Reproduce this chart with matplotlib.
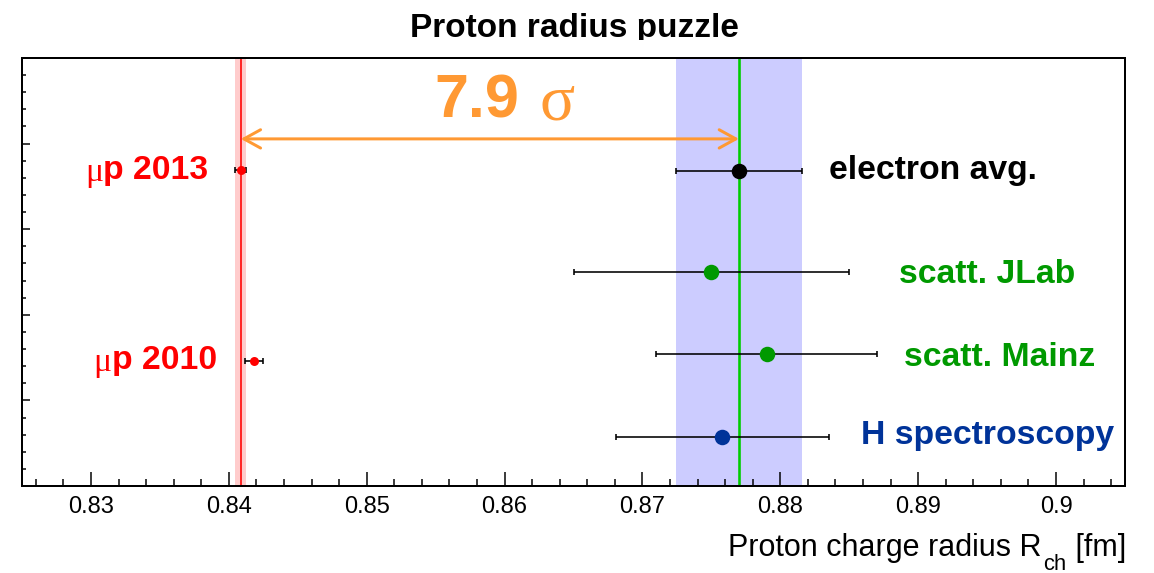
import matplotlib
matplotlib.use("Agg")
import matplotlib.pyplot as plt
from matplotlib.ticker import MultipleLocator, FixedLocator
from matplotlib.transforms import Bbox, TransformedBbox

# ---------------- data ----------------
e_labels = ["electron avg.", "scatt. JLab", "scatt. Mainz", "H spectroscopy"]
e_values = [0.8770, 0.8750, 0.8790, 0.8758]
e_errors = [0.0046, 0.0100, 0.0080, 0.0077]
e_rows = [0.736, 0.500, 0.308, 0.114]
e_colors = ["#000000", "#009900", "#009900", "#003399"]

mu_labels = ["p 2013", "p 2010"]
mu_values = [0.84087, 0.84184]
mu_errors = [0.00039, 0.00067]
mu_rows = [0.738, 0.292]

electron_band = (0.8770, 0.0046)
muon_band = (0.84087, 0.00039)
discrepancy = "7.9"

x_ticks = [0.83, 0.84, 0.85, 0.86, 0.87, 0.88, 0.89, 0.90]
x_ticklabels = ["0.83", "0.84", "0.85", "0.86", "0.87", "0.88", "0.89", "0.9"]

title = "Proton radius puzzle"
xlabel_main = "Proton charge radius R"
xlabel_sub = "ch"
xlabel_unit = " [fm]"

# ---------------- style ----------------
plt.rcParams["font.family"] = ["Liberation Sans", "DejaVu Sans"]

W, H = 1154, 573
fig = plt.figure(figsize=(W / 100, H / 100), dpi=100)
ax = fig.add_axes([22 / W, 87 / H, 1103 / W, 428 / H])
ax.set_xlim(0.825, 0.905)
ax.set_ylim(0, 1)
renderer = fig.canvas.get_renderer()

def fp(x, y):
    return (x / W, 1 - y / H)

def left_px(txt):
    bb = txt.get_window_extent(renderer=renderer)
    return bb.x0  # pixels from left

PX = 0.72  # points per pixel

# bands and lines
ax.axvspan(electron_band[0] - electron_band[1], electron_band[0] + electron_band[1],
           color="#CCCCFF", lw=0, zorder=1)
ax.axvline(electron_band[0], color="#00CC00", lw=2.6 * PX, zorder=2)
ax.axvspan(muon_band[0] - muon_band[1], muon_band[0] + muon_band[1],
           color="#FFCCCC", lw=0, zorder=1)
ax.axvline(muon_band[0], color="#FF0000", lw=1.6 * PX, zorder=2)

# arrow
ax.annotate("", xy=(electron_band[0], 0.811), xytext=(muon_band[0], 0.811),
            arrowprops=dict(arrowstyle="<->,head_length=0.6,head_width=0.33",
                            color="#FF9933", lw=3 * PX, shrinkA=0, shrinkB=0,
                            mutation_scale=20), zorder=3)

# electron measurements
for v, e, r, c in zip(e_values, e_errors, e_rows, e_colors):
    ax.errorbar([v], [r], xerr=[e], fmt="none", ecolor="#000000",
                elinewidth=1.6 * PX, capsize=3 * PX, capthick=1.6 * PX, zorder=4)
    ax.plot([v], [r], "o", color=c, markersize=15.5 * PX, mew=0, zorder=5)

# muonic measurements
for v, e, r in zip(mu_values, mu_errors, mu_rows):
    ax.errorbar([v], [r], xerr=[e], fmt="none", ecolor="#000000",
                elinewidth=1.6 * PX, capsize=3 * PX, capthick=1.6 * PX, zorder=4)
    ax.plot([v], [r], "o", color="#FF0000", markersize=9 * PX, mew=0, zorder=5)

# axes styling
for s in ax.spines.values():
    s.set_linewidth(2 * PX)
ax.xaxis.set_major_locator(FixedLocator(x_ticks))
ax.set_xticklabels(x_ticklabels)
ax.xaxis.set_minor_locator(MultipleLocator(0.002))
ax.yaxis.set_major_locator(MultipleLocator(0.2))
ax.yaxis.set_minor_locator(MultipleLocator(0.04))
ax.tick_params(axis="x", which="major", direction="in", length=14 * PX, width=1.5 * PX,
               labelsize=17, pad=7, top=False)
ax.tick_params(axis="x", which="minor", direction="in", length=7 * PX, width=1.5 * PX, top=False)
ax.tick_params(axis="y", which="major", direction="in", length=8 * PX, width=1.5 * PX,
               labelleft=False, right=False)
ax.tick_params(axis="y", which="minor", direction="in", length=4 * PX, width=1.5 * PX, right=False)

# labels next to points
lab_fs = 24.3
fig.text(*fp(829, 179), e_labels[0], color=e_colors[0], fontsize=lab_fs,
         fontweight="bold", ha="left", va="baseline")
fig.text(*fp(899, 283), e_labels[1], color=e_colors[1], fontsize=lab_fs,
         fontweight="bold", ha="left", va="baseline")
fig.text(*fp(904, 366), e_labels[2], color=e_colors[2], fontsize=lab_fs,
         fontweight="bold", ha="left", va="baseline")
fig.text(*fp(861, 444), e_labels[3], color=e_colors[3], fontsize=lab_fs,
         fontweight="bold", ha="left", va="baseline")

for lab, xr, yb in zip(mu_labels, [208, 217], [179, 369]):
    tt = fig.text(*fp(xr, yb), lab, color="#FF0000", fontsize=lab_fs,
                  fontweight="bold", ha="right", va="baseline")
    x0 = left_px(tt)
    fig.text(x0 / W, 1 - (yb + 2) / H, "\u03bc", color="#FF0000", fontsize=lab_fs,
             family=["Liberation Serif", "DejaVu Serif"], ha="right", va="baseline")

# 7.9 sigma
fig.text(*fp(434, 118), discrepancy, color="#FF9933", fontsize=44,
         fontweight="bold", ha="left", va="baseline")
fig.text(*fp(539, 120), "\u03c3", color="#FF9933", fontsize=47,
         family=["Liberation Serif", "DejaVu Serif"], ha="left", va="baseline")

# title (clipped at the bottom as in the original)
t = fig.text(*fp(574, 37), title, fontsize=24, fontweight="bold",
             ha="center", va="baseline")
t.set_clip_box(TransformedBbox(Bbox([[0, 1 - 39.5 / H], [1, 1]]), fig.transFigure))
t.set_clip_on(True)

# x-axis title with a deep subscript
xl_fs = 22
tu = fig.text(*fp(1126, 556), xlabel_unit, fontsize=xl_fs, ha="right", va="baseline")
ts = fig.text(left_px(tu) / W, 1 - 570 / H, xlabel_sub, fontsize=xl_fs * 0.72,
              ha="right", va="baseline")
fig.text((left_px(ts) - 2) / W, 1 - 556 / H, xlabel_main, fontsize=xl_fs,
         ha="right", va="baseline")

fig.savefig("out.png", dpi=100)
